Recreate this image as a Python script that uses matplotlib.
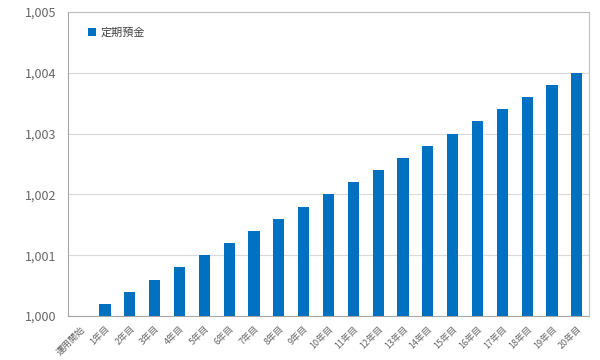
import matplotlib
matplotlib.use("Agg")
import matplotlib.pyplot as plt
import matplotlib.transforms as mtransforms
from matplotlib.ticker import FuncFormatter

plt.rcParams['font.family'] = ['Noto Sans CJK JP', 'DejaVu Sans']

# data
categories = ['運用開始'] + [f'{i}年目' for i in range(1, 21)]
deposit = [1000.0, 1000.2, 1000.4, 1000.6, 1000.8, 1001.0, 1001.2, 1001.4,
           1001.6, 1001.8, 1002.0, 1002.2, 1002.4, 1002.6, 1002.8, 1003.0,
           1003.2, 1003.4, 1003.6, 1003.8, 1004.0]
series_name = '定期預金'

fig = plt.figure(figsize=(6, 3.6), dpi=100)
ax = fig.add_axes([0.113, 0.122, 0.869, 0.845])

x = range(len(categories))
ax.bar(x, [v - 1000 for v in deposit], bottom=1000, width=0.45,
       color='#0070C0', label=series_name, zorder=3)

ax.set_ylim(1000, 1005)
ax.set_xlim(-0.5, len(categories) - 0.5)
ax.set_yticks(range(1000, 1006))
ax.yaxis.set_major_formatter(FuncFormatter(lambda v, p: f'{int(v):,}'))
ax.grid(axis='y', color='#d9d9d9', linewidth=0.8, zorder=0)

ax.set_xticks(list(x))
ax.set_xticklabels(categories, rotation=45, ha='right', rotation_mode='anchor',
                   fontsize=6.5, color='#666666')
# nudge rotated labels a bit right so they end under the bar
shift = mtransforms.ScaledTranslation(4 / 72, 0, fig.dpi_scale_trans)
for lbl in ax.get_xticklabels():
    lbl.set_transform(lbl.get_transform() + shift)
ax.tick_params(axis='y', labelsize=9, colors='#666666', length=0, pad=8)
ax.tick_params(axis='x', length=0, pad=6)
for s in ax.spines.values():
    s.set_color('#bfbfbf')
ax.spines['left'].set_color('#a6a6a6')
ax.spines['bottom'].set_color('#a6a6a6')

leg = ax.legend(loc='upper left', bbox_to_anchor=(0.02, 0.98), frameon=False,
                fontsize=8, handlelength=0.7, handleheight=0.7, handletextpad=0.4)
for t in leg.get_texts():
    t.set_color('#404040')

fig.savefig('out.png', dpi=100)
